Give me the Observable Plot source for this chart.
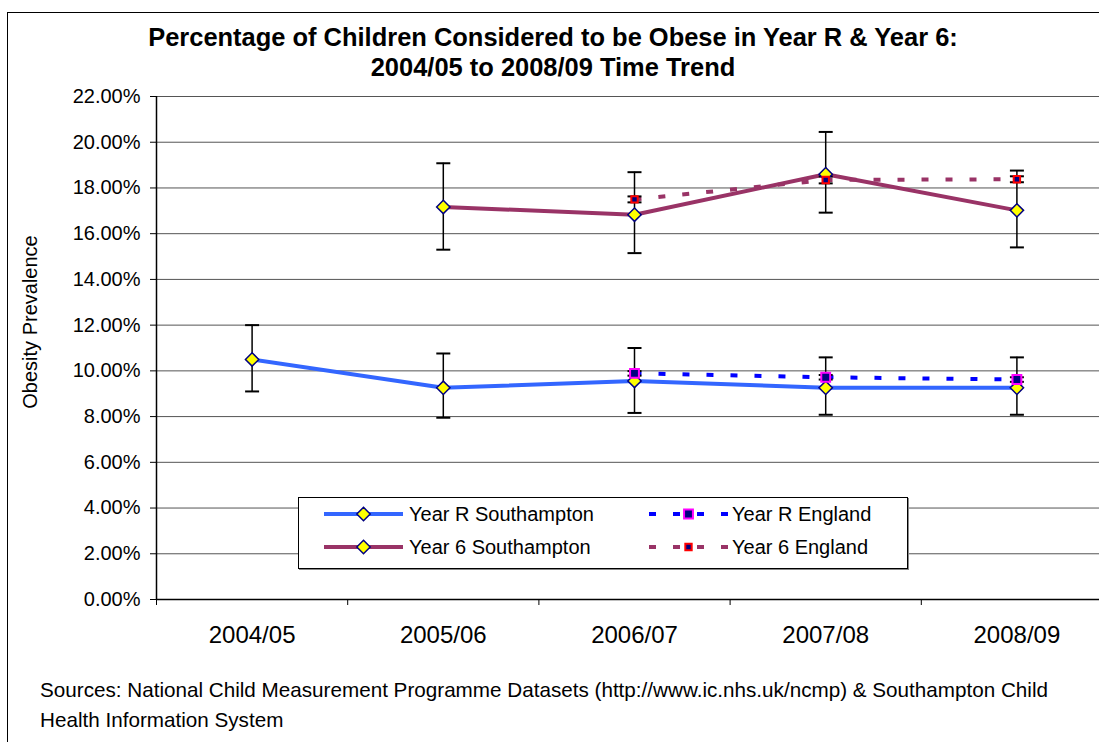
<!DOCTYPE html>
<html><head><meta charset="utf-8">
<script src="https://cdn.jsdelivr.net/npm/d3@7"></script>
<script src="https://cdn.jsdelivr.net/npm/@observablehq/plot@0.6"></script>
<style>
html,body{margin:0;padding:0;width:1099px;height:742px;overflow:hidden;background:#fff;font-family:"Liberation Sans",Arial,sans-serif;color:#000;}
#page{position:relative;width:1099px;height:742px;overflow:hidden;}
#frame{position:absolute;left:7px;top:12px;width:1300px;height:900px;border-left:1px solid #000;border-top:1px solid #000;}
#chart{position:absolute;left:0;top:0;width:1130px;}
#chart svg{max-width:none !important;}
.title{position:absolute;left:0;width:1106px;text-align:center;font-weight:bold;white-space:nowrap;line-height:1;}
.cap{position:absolute;left:40px;white-space:nowrap;line-height:1;}
#ylabel{position:absolute;left:30px;top:322px;transform:translate(-50%,-50%) rotate(-90deg);white-space:nowrap;font-size:20px;line-height:1;}
#legend{position:absolute;left:298px;top:497px;width:608px;height:70px;border:1px solid #000;box-shadow:1px 1px 0 #888;background:#fff;}
.litem{position:absolute;height:24px;}
.ltext{position:absolute;font-size:20px;line-height:1;white-space:nowrap;}
</style>
</head><body>
<div id="page">
  <div id="frame"></div>
  <div id="chart"></div>
  <div class="title" id="t1"></div>
  <div class="title" id="t2"></div>
  <div id="ylabel"></div>
  <div id="legend"></div>
  <div class="cap" id="c1"></div>
  <div class="cap" id="c2"></div>
</div>
<script>
// ---------- data ----------
const years = ["2004/05", "2005/06", "2006/07", "2007/08", "2008/09"];
const yTicks = [0, 2, 4, 6, 8, 10, 12, 14, 16, 18, 20, 22];

const yrSoton   = [10.5, 9.26, 9.56, 9.26, 9.26];
const yrSotonLo = [9.1, 7.95, 8.16, 8.08, 8.08];
const yrSotonHi = [12.0, 10.76, 11.0, 10.59, 10.59];

const y6Soton   = [null, 17.17, 16.83, 18.6, 17.02];
const y6SotonLo = [null, 15.3, 15.15, 16.92, 15.4];
const y6SotonHi = [null, 19.08, 18.69, 20.45, 18.76];

const yrEng   = [null, null, 9.89, 9.72, 9.62];
const yrEngLo = [null, null, 9.79, 9.62, 9.52];
const yrEngHi = [null, null, 9.99, 9.82, 9.72];

const y6Eng   = [null, null, 17.5, 18.35, 18.38];
const y6EngLo = [null, null, 17.37, 18.2, 18.25];
const y6EngHi = [null, null, 17.63, 18.5, 18.51];

const seriesNames = ["Year R Southampton", "Year 6 Southampton", "Year R England", "Year 6 England"];
const titleLines = ["Percentage of Children Considered to be Obese in Year R & Year 6:", "2004/05 to 2008/09 Time Trend"];
const yLabel = "Obesity Prevalence";
const captionLines = ["Sources: National Child Measurement Programme Datasets (http://www.ic.nhs.uk/ncmp) & Southampton Child", "Health Information System"];

// ---------- styles ----------
const colYR = "#3366ff", colY6 = "#993366", colYREng = "#0000ff";
const fontFam = "'Liberation Sans', Arial, sans-serif";

function rows(v, lo, hi) {
  return years.map((y, i) => ({x: i, year: y, v: v[i], lo: lo[i], hi: hi[i]})).filter(d => d.v != null);
}
const dYR = rows(yrSoton, yrSotonLo, yrSotonHi);
const dY6 = rows(y6Soton, y6SotonLo, y6SotonHi);
const dYRE = rows(yrEng, yrEngLo, yrEngHi);
const dY6E = rows(y6Eng, y6EngLo, y6EngHi);

const cap = {draw(ctx) { ctx.moveTo(-7, 0); ctx.lineTo(7, 0); }};
const xDomain = [-0.5, years.length - 0.5];
const bounds = d3.range(years.length + 1).map(i => i - 0.5);
const idx = d3.range(years.length);

function errorBars(data) {
  return [
    Plot.ruleX(data, {x: "x", y1: "lo", y2: "hi", stroke: "#000", strokeWidth: 1.5}),
    Plot.dot(data, {x: "x", y: "lo", symbol: cap, stroke: "#000", strokeWidth: 2, fill: "none"}),
    Plot.dot(data, {x: "x", y: "hi", symbol: cap, stroke: "#000", strokeWidth: 2, fill: "none"})
  ];
}

const chart = Plot.plot({
  width: 1130,
  height: 659,
  marginLeft: 156,
  marginRight: 18,
  marginTop: 96,
  marginBottom: 60,
  style: {fontFamily: fontFam, color: "#000", background: "transparent", overflow: "visible", maxWidth: "none"},
  x: {type: "linear", domain: xDomain},
  y: {type: "linear", domain: [0, 22]},
  marks: [
    Plot.ruleY(yTicks, {stroke: "#555", strokeWidth: 1}),
    Plot.axisY({ticks: yTicks, tickFormat: d => d.toFixed(2) + "%", tickSize: 6, tickPadding: 10, fontSize: 20, stroke: "#000", label: null}),
    Plot.axisX({ticks: bounds, tickFormat: () => "", tickSize: 6, stroke: "#000", label: null}),
    Plot.axisX({ticks: idx, tickFormat: i => years[i], tickSize: 0, tickPadding: 26, fontSize: 24, label: null}),
    Plot.ruleX([xDomain[0]], {stroke: "#000", strokeWidth: 1.5}),
    Plot.ruleY([0], {stroke: "#000", strokeWidth: 1.5}),
    Plot.line(dYR, {x: "x", y: "v", stroke: colYR, strokeWidth: 4}),
    Plot.line(dY6, {x: "x", y: "v", stroke: colY6, strokeWidth: 4}),
    ...errorBars(dYR),
    ...errorBars(dY6),
    Plot.line(dYRE, {x: "x", y: "v", stroke: colYREng, strokeWidth: 4, strokeDasharray: "7,17", strokeLinecap: "butt"}),
    Plot.line(dY6E, {x: "x", y: "v", stroke: colY6, strokeWidth: 4, strokeDasharray: "7,17", strokeLinecap: "butt"}),
    ...errorBars(dYRE),
    ...errorBars(dY6E),
    Plot.dot(dYR, {x: "x", y: "v", symbol: "diamond2", r: 6, fill: "#ffff00", stroke: "#000080", strokeWidth: 1.5}),
    Plot.dot(dY6, {x: "x", y: "v", symbol: "diamond2", r: 6, fill: "#ffff00", stroke: "#000080", strokeWidth: 1.5}),
    Plot.dot(dYRE, {x: "x", y: "v", symbol: "square", r: 5, fill: "#000080", stroke: "#ff00ff", strokeWidth: 2}),
    Plot.dot(dY6E, {x: "x", y: "v", symbol: "square", r: 3.6, fill: "#000080", stroke: "#ff0000", strokeWidth: 2})
  ]
});
chart.style.maxWidth = "none";
document.getElementById("chart").appendChild(chart);

// ---------- text ----------
const mctx = document.createElement("canvas").getContext("2d");
function fit(text, weight, target) {
  mctx.font = `${weight} 20px ${fontFam}`;
  return 20 * target / mctx.measureText(text).width;
}
const tfs = fit(titleLines[0], "bold", 811);
const t1 = document.getElementById("t1"), t2 = document.getElementById("t2");
t1.textContent = titleLines[0]; t2.textContent = titleLines[1];
t1.style.fontSize = t2.style.fontSize = tfs + "px";
t1.style.top = (38 - tfs * 0.5) + "px";
t2.style.top = (68 - tfs * 0.5) + "px";
document.getElementById("ylabel").textContent = yLabel;
const cfs = fit(captionLines[0], "normal", 1009);
const c1 = document.getElementById("c1"), c2 = document.getElementById("c2");
c1.textContent = captionLines[0]; c2.textContent = captionLines[1];
c1.style.fontSize = c2.style.fontSize = cfs + "px";
c1.style.top = (690 - cfs * 0.5) + "px";
c2.style.top = (720 - cfs * 0.5) + "px";

// ---------- legend ----------
const legendSpec = [
  {name: seriesNames[0], color: colYR, dash: null, sym: d3.symbolDiamond2, size: Math.PI * 36, fill: "#ffff00", stroke: "#000080", sw: 1.5},
  {name: seriesNames[1], color: colY6, dash: null, sym: d3.symbolDiamond2, size: Math.PI * 36, fill: "#ffff00", stroke: "#000080", sw: 1.5},
  {name: seriesNames[2], color: colYREng, dash: "7,17", sym: d3.symbolSquare, size: Math.PI * 25, fill: "#000080", stroke: "#ff00ff", sw: 2},
  {name: seriesNames[3], color: colY6, dash: "7,17", sym: d3.symbolSquare, size: Math.PI * 3.6 * 3.6, fill: "#000080", stroke: "#ff0000", sw: 2}
];
const legend = document.getElementById("legend");
legendSpec.forEach((s, i) => {
  const col = Math.floor(i / 2), row = i % 2;
  const sx = col === 0 ? 25 : 350, tx = col === 0 ? 110 : 433;
  const cy = row === 0 ? 16 : 49;
  const item = document.createElement("div");
  item.className = "litem";
  item.style.left = sx + "px"; item.style.top = (cy - 12) + "px";
  const svg = d3.create("svg").attr("width", 80).attr("height", 24);
  svg.append("line").attr("x1", 0).attr("x2", 79).attr("y1", 12).attr("y2", 12)
    .attr("stroke", s.color).attr("stroke-width", 4)
    .attr("stroke-dasharray", s.dash);
  svg.append("path").attr("transform", "translate(39.5,12)").attr("d", d3.symbol(s.sym, s.size)())
    .attr("fill", s.fill).attr("stroke", s.stroke).attr("stroke-width", s.sw);
  item.appendChild(svg.node());
  legend.appendChild(item);
  const t = document.createElement("div");
  t.className = "ltext";
  t.textContent = s.name;
  t.style.left = tx + "px"; t.style.top = (cy - 10) + "px";
  legend.appendChild(t);
});
</script>
</body></html>
